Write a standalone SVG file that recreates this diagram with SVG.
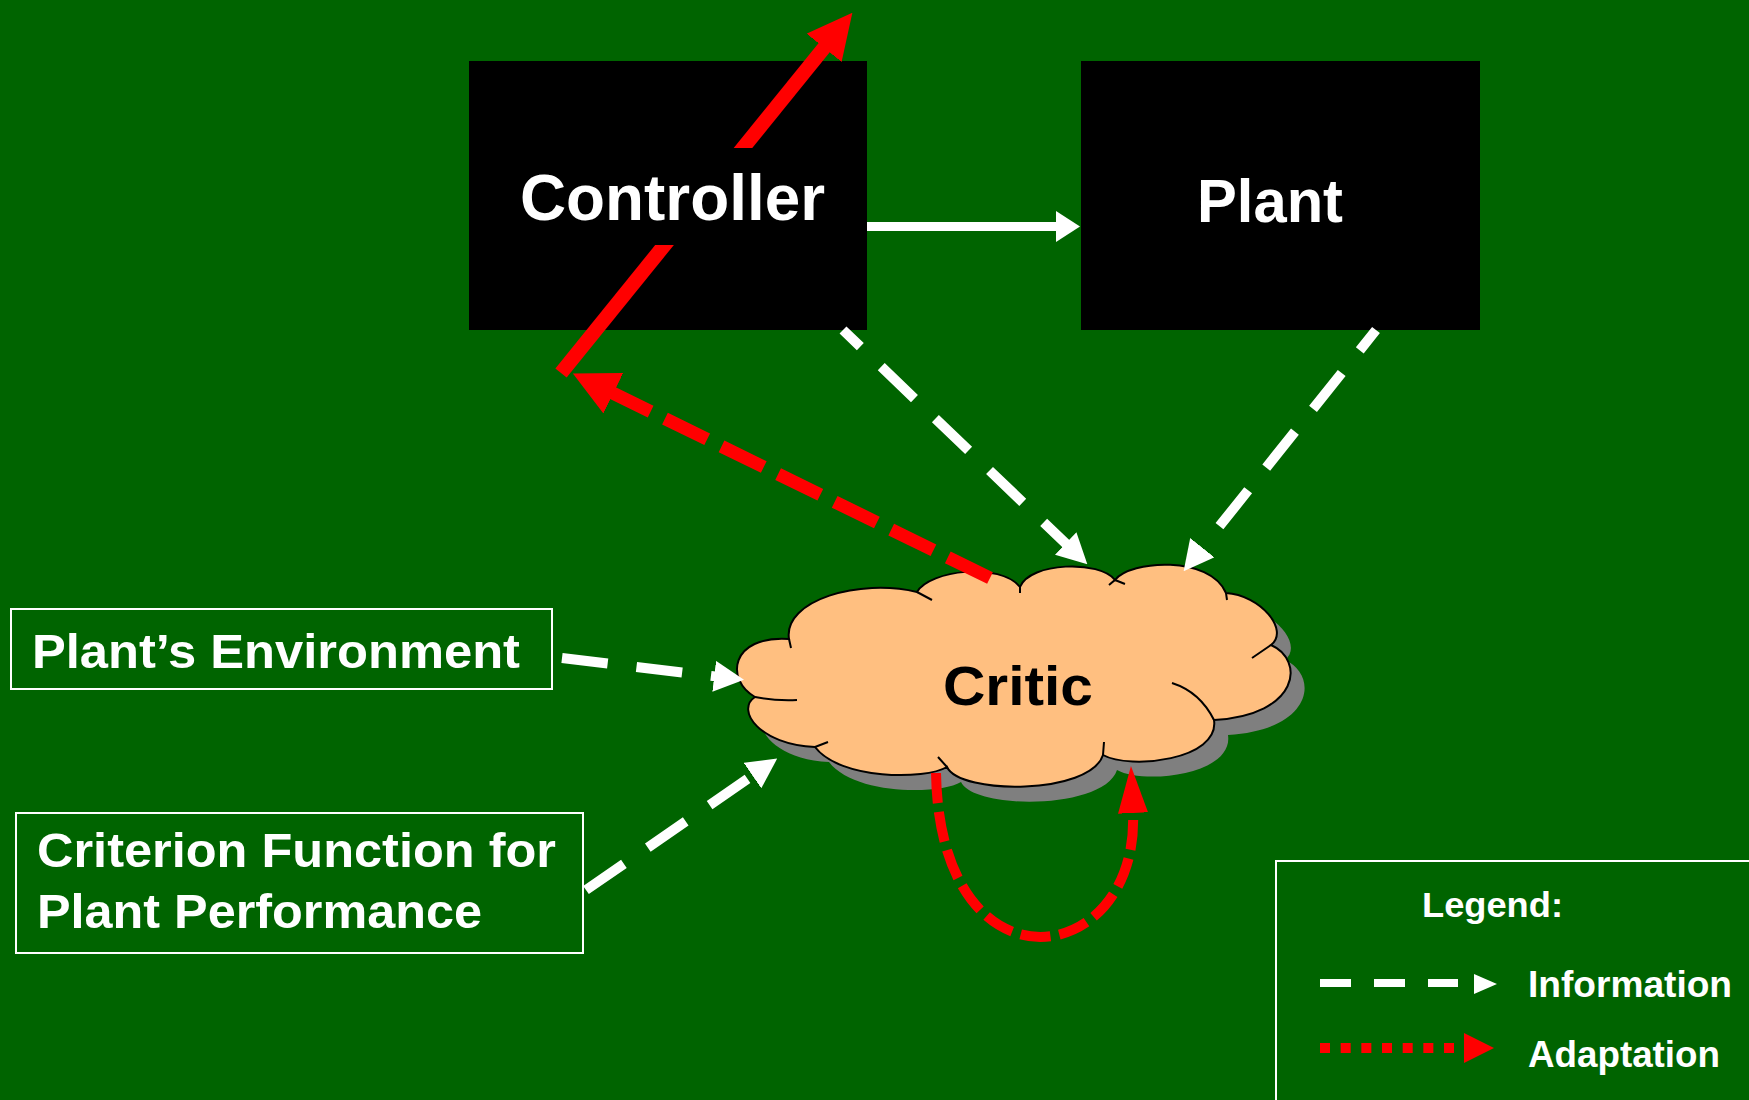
<svg xmlns="http://www.w3.org/2000/svg" width="1749" height="1100" viewBox="0 0 1749 1100">
  <style>
    .label { font-family: "Liberation Sans", Arial, sans-serif; font-weight: bold; fill: #ffffff; }
    .dark { fill: #000000; }
    .block { fill: #000000; }
    .frame { fill: none; stroke: #ffffff; stroke-width: 2; }
    .cloud { fill: #ffbf80; stroke: #000000; stroke-width: 2; }
    .cloud-shadow { fill: #7f7f7f; }
    .crease { fill: none; stroke: #000000; stroke-width: 2; }
    .info { fill: none; stroke: #ffffff; stroke-width: 10; stroke-dasharray: 46 29; }
    .adapt { fill: none; stroke: #ff0000; }
  </style>
  <defs>
    <marker id="info-head" markerUnits="userSpaceOnUse" viewBox="0 0 30 31" markerWidth="30" markerHeight="31" refX="1" refY="15.5" orient="auto">
      <path d="M0,0 L30,15.5 L0,31 Z" fill="#ffffff"/>
    </marker>
    <marker id="info-head-short" markerUnits="userSpaceOnUse" viewBox="0 0 24 31" markerWidth="24" markerHeight="31" refX="1" refY="15.5" orient="auto">
      <path d="M0,0 L24,15.5 L0,31 Z" fill="#ffffff"/>
    </marker>
    <marker id="adapt-head" markerUnits="userSpaceOnUse" viewBox="0 0 45 45" markerWidth="45" markerHeight="45" refX="1" refY="22.5" orient="auto">
      <path d="M0,0 L45,22.5 L0,45 Z" fill="#ff0000"/>
    </marker>
    <marker id="adapt-head-loop" markerUnits="userSpaceOnUse" viewBox="0 0 47 30" markerWidth="47" markerHeight="30" refX="1" refY="15" orient="auto">
      <path d="M0,0 L47,15 L0,30 Z" fill="#ff0000"/>
    </marker>
    <path id="cloud-shape" d="M789,639
      C783,600 860,578 917,592
      C930,570 1000,562 1020,587
      C1030,562 1100,560 1115,580
      C1130,560 1210,555 1226,593
      C1260,595 1290,630 1271,645
      C1305,660 1300,715 1214,720
      C1220,760 1130,770 1103,755
      C1090,795 960,795 947,767
      C925,780 840,780 815,747
      C760,745 735,710 755,697
      C725,680 730,635 789,639 Z"/>
  </defs>

  <!-- background -->
  <rect x="0" y="0" width="1749" height="1100" fill="#006400"/>

  <!-- adjustable controller: block, diagonal adjustment arrow, label band -->
  <g id="controller">
    <rect class="block" x="469" y="61" width="398" height="269"/>
    <line class="adapt" x1="561" y1="373" x2="824.7" y2="47" stroke-width="14.5" marker-end="url(#adapt-head)"/>
    <rect class="block" x="479" y="148" width="378" height="97"/>
    <text class="label" x="520" y="220" font-size="64" textLength="305" lengthAdjust="spacingAndGlyphs">Controller</text>
  </g>

  <g id="plant">
    <rect class="block" x="1081" y="61" width="399" height="269"/>
    <text class="label" x="1197" y="222" font-size="62" textLength="146" lengthAdjust="spacingAndGlyphs">Plant</text>
  </g>

  <g id="critic">
    <use href="#cloud-shape" class="cloud-shadow" transform="translate(14,15)"/>
    <use href="#cloud-shape" class="cloud"/>
    <path class="crease" d="M789,639 L791,648
      M755,697 Q775,701 797,700
      M815,747 L828,742
      M947,767 L938,757
      M1103,755 L1104,742
      M1214,720 Q1200,692 1172,683
      M1271,645 L1252,658
      M1226,593 L1227,600
      M1109,585 L1115,580 L1125,584
      M1020,587 L1020,593
      M917,592 L932,600"/>
    <text class="label dark" x="943" y="705" font-size="56" textLength="150" lengthAdjust="spacingAndGlyphs">Critic</text>
  </g>

  <g id="plant-environment">
    <rect class="frame" x="11" y="609" width="541" height="80"/>
    <text class="label" x="32" y="668" font-size="48" textLength="488" lengthAdjust="spacingAndGlyphs">Plant’s Environment</text>
  </g>

  <g id="criterion-function">
    <rect class="frame" x="16" y="813" width="567" height="140"/>
    <text class="label" x="37" y="867" font-size="48" textLength="519" lengthAdjust="spacingAndGlyphs">Criterion Function for</text>
    <text class="label" x="37" y="928" font-size="48" textLength="445" lengthAdjust="spacingAndGlyphs">Plant Performance</text>
  </g>

  <g id="legend">
    <rect class="frame" x="1276" y="861" width="500" height="300"/>
    <text class="label" x="1422" y="917" font-size="35" textLength="141" lengthAdjust="spacingAndGlyphs">Legend:</text>
    <line x1="1320" y1="983" x2="1458" y2="983" stroke="#ffffff" stroke-width="8" stroke-dasharray="31 23"/>
    <path d="M1474,974 L1497,984 L1474,994 Z" fill="#ffffff"/>
    <text class="label" x="1528" y="997" font-size="37" textLength="204" lengthAdjust="spacingAndGlyphs">Information</text>
    <line x1="1320" y1="1048" x2="1454" y2="1048" stroke="#ff0000" stroke-width="10" stroke-dasharray="10 10.67"/>
    <path d="M1464,1033 L1494,1048 L1464,1063 Z" fill="#ff0000"/>
    <text class="label" x="1528" y="1067" font-size="37" textLength="192" lengthAdjust="spacingAndGlyphs">Adaptation</text>
  </g>

  <g id="connectors">
    <!-- control signal -->
    <line x1="867" y1="226.5" x2="1057" y2="226.5" stroke="#ffffff" stroke-width="9" marker-end="url(#info-head-short)"/>
    <!-- information flows into the critic -->
    <path class="info" d="M843,330 L1066.4,544.2" stroke-dashoffset="22" marker-end="url(#info-head)"/>
    <path class="info" d="M1376,330 L1201.7,548.5" stroke-dashoffset="20" marker-end="url(#info-head)"/>
    <path class="info" d="M562,658 L715.2,676.4" stroke-dasharray="45 31" marker-end="url(#info-head)"/>
    <path class="info" d="M586,890 L753.3,775" stroke-dasharray="48 27" marker-end="url(#info-head)"/>
    <!-- adaptation flows out of the critic -->
    <path class="adapt" d="M990,578 L612.4,392.8" stroke-width="13" stroke-dasharray="47 16" marker-end="url(#adapt-head)"/>
    <path class="adapt" d="M936,773 C940,1000 1140,970 1133,812" stroke-width="10" stroke-dasharray="30 9" marker-end="url(#adapt-head-loop)"/>
  </g>
</svg>
